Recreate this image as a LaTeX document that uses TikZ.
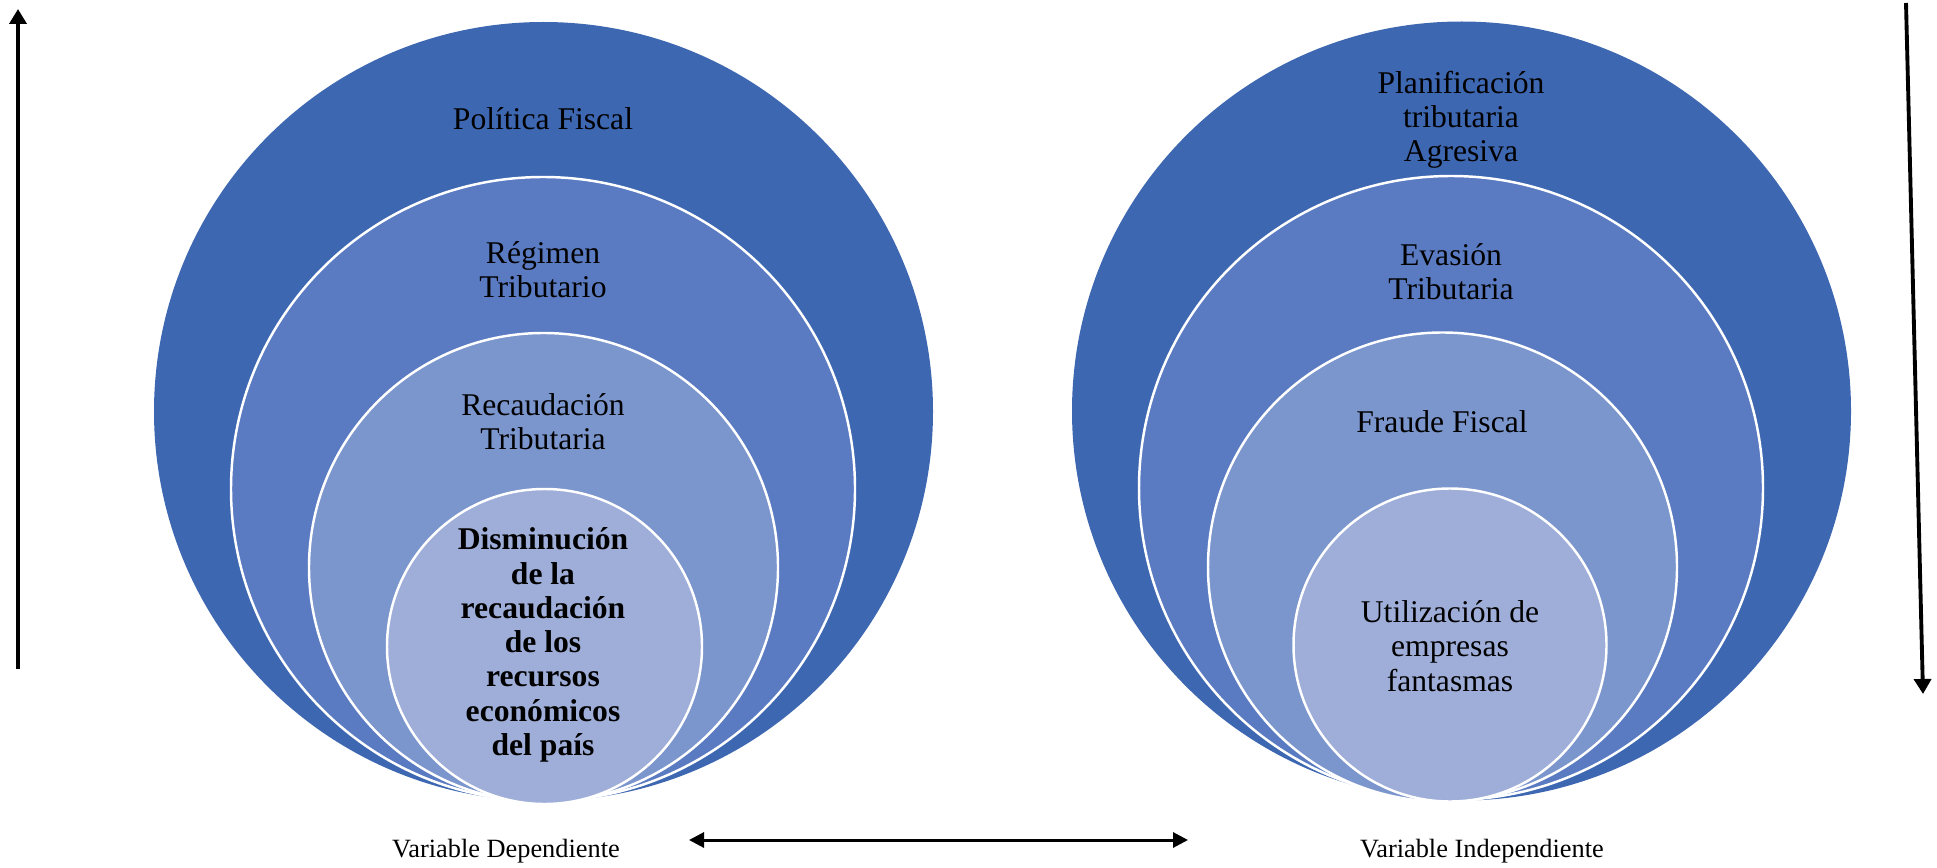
\documentclass[tikz,border=0pt]{standalone}
\usepackage{fontspec}
\setmainfont{Liberation Serif}
\usetikzlibrary{arrows.meta}

\definecolor{ringA}{RGB}{62,103,177}
\definecolor{ringB}{RGB}{90,123,194}
\definecolor{ringC}{RGB}{123,149,205}
\definecolor{ringD}{RGB}{159,174,217}

\begin{document}
\begin{tikzpicture}[x=0.02cm,y=-0.02cm,
    ring/.style={draw=white,line width=1.4pt},
    lbl/.style={align=center,font=\fontsize{18}{19.5}\selectfont},
    varlbl/.style={font=\fontsize{15}{17}\selectfont},
    axis/.style={line width=2.2pt,-{Triangle[length=0.3cm,width=0.34cm]}},
    link/.style={line width=1.7pt,{Triangle[length=0.3cm,width=0.3cm]}-{Triangle[length=0.3cm,width=0.3cm]}}]
  \useasboundingbox (0,0) rectangle (1937,868);

  % variable dependiente
  \fill[ringA] (543.5,411.5) circle[radius=389.5];
  \draw[ring,fill=ringB] (543,489) circle[radius=312];
  \draw[ring,fill=ringC] (543.5,567.5) circle[radius=234.5];
  \draw[ring,fill=ringD] (544.5,646.5) circle[radius=157.5];
  \node[lbl] (politica) at (543,119) {Política Fiscal};
  \node[lbl] (regimen) at (543,270) {Régimen\\Tributario};
  \node[lbl] (recaudacion) at (543,422) {Recaudación\\Tributaria};
  \node[lbl,font=\fontsize{18}{19.5}\selectfont\bfseries] (disminucion) at (543,645)
    {Disminución\\de la\\recaudación\\de los\\recursos\\económicos\\del país};

  % variable independiente
  \fill[ringA] (1461.5,411) circle[radius=389.5];
  \draw[ring,fill=ringB] (1451,488) circle[radius=312];
  \draw[ring,fill=ringC] (1442.5,567) circle[radius=234.5];
  \draw[ring,fill=ringD] (1450,645) circle[radius=156.5];
  \node[lbl] (planificacion) at (1461,120) {Planificación\\tributaria\\Agresiva};
  \node[lbl] (evasion) at (1451,272) {Evasión\\Tributaria};
  \node[lbl] (fraude) at (1442,422) {Fraude Fiscal};
  \node[lbl] (empresas) at (1450,646) {Utilización de\\empresas\\fantasmas};

  % flechas
  \coordinate (upA) at (18,669);
  \coordinate (upB) at (18,9);
  \draw[axis] (upA) -- (upB);
  \coordinate (downA) at (1906,3);
  \coordinate (downB) at (1923,694);
  \draw[axis] (downA) -- (downB);
  \coordinate (linkA) at (689,840);
  \coordinate (linkB) at (1188,840);
  \draw[link] (linkA) -- (linkB);

  \node[varlbl] (dependiente) at (506,851) {Variable Dependiente};
  \node[varlbl] (independiente) at (1482,851) {Variable Independiente};
\end{tikzpicture}
\end{document}
